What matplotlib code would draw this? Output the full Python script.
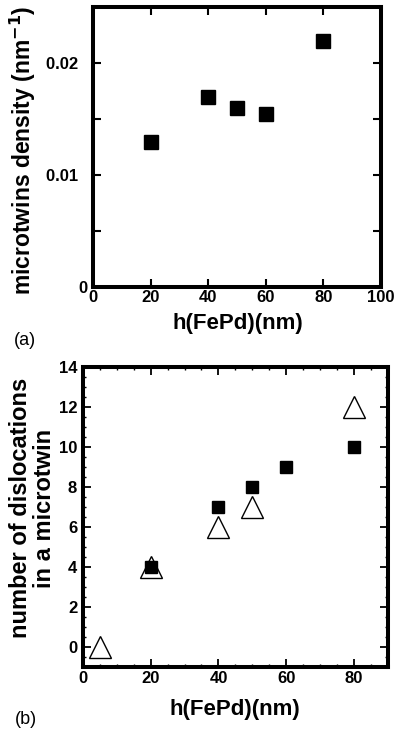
import matplotlib
matplotlib.use("Agg")
import matplotlib.pyplot as plt
from matplotlib.ticker import MultipleLocator, FixedLocator, FuncFormatter

plt.rcParams['font.family'] = ['Liberation Sans', 'DejaVu Sans']

# Panel (a)
h_a = [20, 40, 50, 60, 80]
density_a = [0.013, 0.017, 0.016, 0.0155, 0.022]

# Panel (b)
h_sq = [20, 40, 50, 60, 80]
disl_sq = [4, 7, 8, 9, 10]
h_tri = [5, 20, 40, 50, 80]
disl_tri = [0, 4, 6, 7, 12]

fig = plt.figure(figsize=(3.94, 7.30), dpi=100)

# ---- (a)
ax1 = fig.add_axes([0.236, 0.607, 0.731, 0.383])
ax1.plot(h_a, density_a, 's', color='black', ms=9.5, mec='black')
ax1.set_xlim(0, 100)
ax1.set_ylim(0, 0.025)
ax1.xaxis.set_major_locator(MultipleLocator(20))
ax1.yaxis.set_major_locator(FixedLocator([0, 0.01, 0.02]))
ax1.yaxis.set_minor_locator(FixedLocator([0.005, 0.015]))
ax1.yaxis.set_major_formatter(FuncFormatter(lambda v, p: '0' if v == 0 else f'{v:.2f}  '))
ax1.tick_params(which='both', direction='in', top=True, right=True, width=1.5,
                length=6, labelsize=12, pad=4)
ax1.tick_params(axis='x', pad=2.5)
for lab in ax1.get_xticklabels() + ax1.get_yticklabels():
    lab.set_fontweight('bold')
for s in ax1.spines.values():
    s.set_linewidth(2.9)
ax1.set_xlabel('h(FePd)(nm)', fontsize=16, fontweight='bold')
ax1.set_ylabel('microtwins density (nm$^{\\mathbf{-1}}$)', fontsize=16.5, fontweight='bold')
ax1.xaxis.set_label_coords(0.502, -0.093)
ax1.yaxis.set_label_coords(-0.19, 0.49)
fig.text(0.035, 0.533, '(a)', fontsize=13, ha='left', va='center')

# ---- (b)
ax2 = fig.add_axes([0.210, 0.086, 0.775, 0.411])
ax2.plot(h_tri, disl_tri, '^', color='white', mec='black', mew=1.0, ms=16)
ax2.plot(h_sq, disl_sq, 's', color='black', ms=8.5, mec='black')
ax2.set_xlim(0, 90)
ax2.set_ylim(-1, 14)
ax2.xaxis.set_major_locator(FixedLocator([0, 20, 40, 60, 80]))
ax2.xaxis.set_minor_locator(MultipleLocator(5))
ax2.yaxis.set_major_locator(FixedLocator([0, 2, 4, 6, 8, 10, 12, 14]))
ax2.yaxis.set_minor_locator(MultipleLocator(0.5))
ax2.tick_params(which='major', direction='in', top=True, right=True, width=1.3,
                length=6, labelsize=12, pad=4)
ax2.tick_params(which='minor', direction='in', top=True, right=True, width=1.0, length=2.5)
ax2.tick_params(axis='x', which='major', pad=3)
for lab in ax2.get_xticklabels() + ax2.get_yticklabels():
    lab.set_fontweight('bold')
for s in ax2.spines.values():
    s.set_linewidth(2.9)
ax2.set_xlabel('h(FePd)(nm)', fontsize=16, fontweight='bold')
ax2.set_ylabel('number of dislocations\nin a microtwin', fontsize=17, fontweight='bold',
               linespacing=1.05)
ax2.xaxis.set_label_coords(0.499, -0.105)
ax2.yaxis.set_label_coords(-0.088, 0.53)
fig.text(0.038, 0.0137, '(b)', fontsize=13, ha='left', va='center')

fig.savefig('out.png', dpi=100)
